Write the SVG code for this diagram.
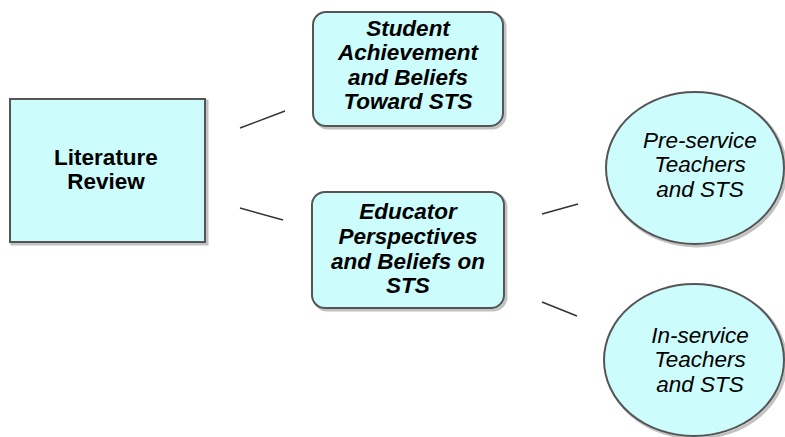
<svg xmlns="http://www.w3.org/2000/svg" width="785" height="437" viewBox="0 0 785 437">
<style>
.n{fill:#ccfcfc;stroke:#555;stroke-width:2}
.sh{fill:none;stroke:#999;stroke-width:3;opacity:.6}
.t{font-family:"Liberation Sans",Arial,sans-serif;font-size:22.5px;text-anchor:middle;fill:#000}
.b{font-weight:bold}
.i{font-style:italic}
.c{stroke:#333;stroke-width:1.5;fill:none}
</style>
<rect width="785" height="437" fill="#fff"/>
<g id="connectors">
<line class="c" x1="240" y1="128" x2="285" y2="111"/>
<line class="c" x1="240" y1="208" x2="283" y2="220"/>
<line class="c" x1="542" y1="214" x2="578" y2="204"/>
<line class="c" x1="542" y1="302" x2="577" y2="316"/>
</g>
<g id="literature-review">
<rect class="sh" x="12" y="101" width="195" height="143"/>
<rect class="n" x="10" y="99" width="195" height="143"/>
<text class="t b" x="106" y="165">Literature</text>
<text class="t b" x="106" y="189">Review</text>
</g>
<g id="student-achievement">
<rect class="sh" x="315" y="14" width="190" height="114" rx="13"/>
<rect class="n" x="313" y="12" width="190" height="114" rx="13"/>
<text class="t b i" x="408" y="36">Student</text>
<text class="t b i" x="408" y="60">Achievement</text>
<text class="t b i" x="408" y="85">and Beliefs</text>
<text class="t b i" x="408" y="109">Toward STS</text>
</g>
<g id="educator-perspectives">
<rect class="sh" x="314" y="194" width="192" height="116" rx="13"/>
<rect class="n" x="312" y="192" width="192" height="116" rx="13"/>
<text class="t b i" x="408" y="219">Educator</text>
<text class="t b i" x="408" y="244">Perspectives</text>
<text class="t b i" x="408" y="269">and Beliefs on</text>
<text class="t b i" x="408" y="293">STS</text>
</g>
<g id="pre-service">
<ellipse class="sh" cx="697" cy="170" rx="89" ry="76"/>
<ellipse class="n" cx="695" cy="168" rx="89" ry="76"/>
<text class="t i" x="700" y="148">Pre-service</text>
<text class="t i" x="700" y="172">Teachers</text>
<text class="t i" x="700" y="197">and STS</text>
</g>
<g id="in-service">
<ellipse class="sh" cx="696" cy="362" rx="90" ry="76"/>
<ellipse class="n" cx="694" cy="360" rx="90" ry="76"/>
<text class="t i" x="700" y="343">In-service</text>
<text class="t i" x="700" y="367">Teachers</text>
<text class="t i" x="700" y="392">and STS</text>
</g>
</svg>
